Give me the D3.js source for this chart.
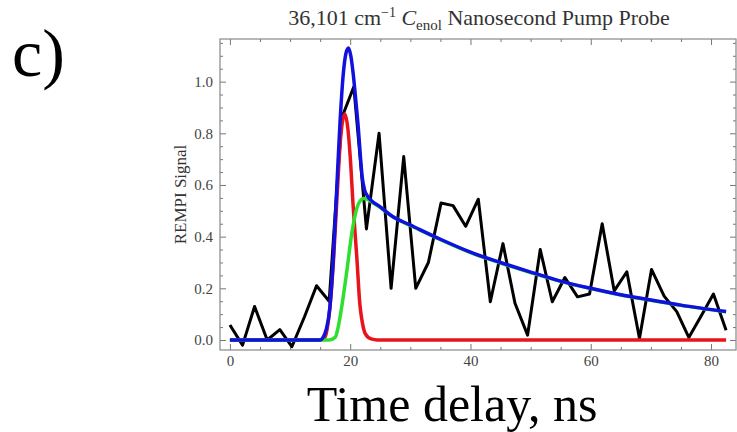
<!DOCTYPE html>
<html>
<head>
<meta charset="utf-8">
<script src="https://cdn.jsdelivr.net/npm/d3@7"></script>
<style>
  body { margin: 0; background: #fff; }
  svg { display: block; font-family: "Liberation Serif", "Times New Roman", serif; }
</style>
</head>
<body>
<div id="chart"></div>
<script>
// REMPI data (black) - time delay in ns
const times = [0, 2.1, 4.1, 6.2, 8.3, 10.3, 12.4, 14.4, 16.5, 18.6, 20.6, 22.7, 24.8, 26.8,
  28.9, 30.9, 33.0, 35.1, 37.1, 39.2, 41.3, 43.3, 45.4, 47.4, 49.5, 51.6, 53.6, 55.7, 57.8,
  59.8, 61.9, 63.9, 66.0, 68.1, 70.1, 72.2, 74.3, 76.3, 78.4, 80.4, 82.5];
const signal = [0.058, -0.02, 0.13, 0.0, 0.04, -0.026, 0.09, 0.21, 0.15, 0.86, 0.98, 0.43,
  0.80, 0.20, 0.71, 0.20, 0.30, 0.53, 0.52, 0.44, 0.545, 0.148, 0.373, 0.142, 0.019, 0.35,
  0.148, 0.242, 0.167, 0.178, 0.45, 0.19, 0.264, 0.006, 0.273, 0.17, 0.11, 0.01, 0.095,
  0.178, 0.038];

// fit components (red = fast, green = slow, blue = total)
const redT = [0, 15, 15.8, 16.5, 17.2, 17.8, 18.4, 19.1, 19.6, 20.0, 20.5, 21.1, 21.6, 22.0, 22.5, 23.5, 24.5, 82.5];
const redV = [0, 0, 0.01, 0.1, 0.3, 0.55, 0.78, 0.875, 0.82, 0.71, 0.515, 0.32, 0.14, 0.07, 0.025, 0.004, 0, 0];

const greenT = [0, 16.5, 17.5, 18.0, 18.6, 19.4, 20.25, 21.1, 21.7, 22.2, 22.8, 23.5, 25, 27.1,
  30, 35, 40, 45, 50, 55, 60, 65, 70, 75, 82.5];
const greenV = [0, 0, 0.01, 0.05, 0.13, 0.26, 0.41, 0.51, 0.54, 0.548, 0.545, 0.535, 0.513, 0.477,
  0.443, 0.388, 0.338, 0.298, 0.261, 0.227, 0.199, 0.174, 0.154, 0.134, 0.109];

const blueT = [0, 15, 15.5, 16.0, 16.6, 17.2, 17.75, 18.3, 18.85, 19.3, 19.7, 20.1, 20.5, 21.0,
  21.35, 21.7, 22.0, 22.4, 22.8, 23.5, 25, 27.1, 30, 35, 40, 45, 50, 55, 60, 65, 70, 75, 82.5];
const blueV = [0, 0, 0.01, 0.04, 0.12, 0.32, 0.58, 0.84, 1.03, 1.11, 1.13, 1.10, 1.03, 0.91,
  0.82, 0.71, 0.63, 0.58, 0.56, 0.54, 0.515, 0.477, 0.445, 0.39, 0.34, 0.30, 0.263, 0.228,
  0.2, 0.175, 0.155, 0.135, 0.11];

const xTicks = [0, 20, 40, 60, 80];
const yTicks = [0, 0.2, 0.4, 0.6, 0.8, 1.0];

const W = 737, H = 432;
const frame = { left: 220, right: 736, top: 39, bottom: 350 };
const serif = '"Liberation Serif", "Times New Roman", serif';

const svg = d3.select('#chart').append('svg')
  .attr('width', W)
  .attr('height', H);

const x = d3.scaleLinear().domain([-1.65, 84.15]).range([frame.left, frame.right]);
const y = d3.scaleLinear().domain([-0.0387, 1.165]).range([frame.bottom, frame.top]);

const xMinor = d3.range(0, 85, 5).filter(v => !xTicks.includes(v));
const yMinor = d3.range(0, 1.16, 0.05).map(v => +v.toFixed(2)).filter(v => !yTicks.includes(v));

// axes, ticks pointing inward
function addAxis(axis, tx, ty) {
  const g = svg.append('g')
    .attr('transform', `translate(${tx},${ty})`)
    .call(axis)
    .attr('font-family', serif)
    .attr('font-size', 15);
  g.select('.domain').remove();
  g.selectAll('.tick line').attr('stroke', '#777');
  g.selectAll('.tick text').attr('fill', '#444');
  return g;
}

addAxis(d3.axisBottom(x).tickValues(xTicks).tickSize(-6).tickPadding(5).tickFormat(d3.format('d')), 0, frame.bottom);
addAxis(d3.axisBottom(x).tickValues(xMinor).tickSize(-3).tickFormat(''), 0, frame.bottom);
addAxis(d3.axisTop(x).tickValues(xTicks).tickSize(-6).tickFormat(''), 0, frame.top);
addAxis(d3.axisTop(x).tickValues(xMinor).tickSize(-3).tickFormat(''), 0, frame.top);

addAxis(d3.axisLeft(y).tickValues(yTicks).tickSize(-6).tickPadding(7).tickFormat(d3.format('.1f')), frame.left, 0);
addAxis(d3.axisLeft(y).tickValues(yMinor).tickSize(-3).tickFormat(''), frame.left, 0);
addAxis(d3.axisRight(y).tickValues(yTicks).tickSize(-6).tickFormat(''), frame.right, 0);
addAxis(d3.axisRight(y).tickValues(yMinor).tickSize(-3).tickFormat(''), frame.right, 0);

svg.append('rect')
  .attr('x', frame.left)
  .attr('y', frame.top)
  .attr('width', frame.right - frame.left)
  .attr('height', frame.bottom - frame.top)
  .attr('fill', 'none')
  .attr('stroke', '#888')
  .attr('stroke-width', 1.2);

const plot = svg.append('g');

const dataLine = d3.line()
  .x(d => x(d[0]))
  .y(d => y(d[1]));

const fitLine = d3.line()
  .curve(d3.curveMonotoneX)
  .x(d => x(d[0]))
  .y(d => y(d[1]));

plot.append('path')
  .datum(d3.zip(times, signal))
  .attr('d', dataLine)
  .attr('fill', 'none')
  .attr('stroke', '#000')
  .attr('stroke-width', 3)
  .attr('stroke-linejoin', 'round');

const fits = [
  { t: redT, v: redV, color: '#e8141c' },
  { t: greenT, v: greenV, color: '#2ee02e' },
  { t: blueT, v: blueV, color: '#1010e0' }
];

fits.forEach(f => {
  plot.append('path')
    .datum(d3.zip(f.t, f.v))
    .attr('d', fitLine)
    .attr('fill', 'none')
    .attr('stroke', f.color)
    .attr('stroke-width', 3.5)
    .attr('stroke-linejoin', 'round');
});

// title
const title = svg.append('text')
  .attr('x', 479)
  .attr('y', 25)
  .attr('text-anchor', 'middle')
  .attr('fill', '#333')
  .style('font-size', '22px');
title.append('tspan').text('36,101 cm');
title.append('tspan').attr('dy', -8).style('font-size', '14px').text('\u22121');
title.append('tspan').attr('dy', 8).text(' ');
title.append('tspan').style('font-style', 'italic').text('C');
title.append('tspan').attr('dy', 5).style('font-size', '15px').text('enol');
title.append('tspan').attr('dy', -5).text(' Nanosecond Pump Probe');

// y label
svg.append('text')
  .attr('transform', `translate(186,${(frame.top + frame.bottom) / 2}) rotate(-90)`)
  .attr('text-anchor', 'middle')
  .attr('fill', '#333')
  .style('font-size', '17px')
  .text('REMPI Signal');

// x label
svg.append('text')
  .attr('x', 452)
  .attr('y', 421)
  .attr('text-anchor', 'middle')
  .attr('fill', '#000')
  .style('font-size', '50px')
  .text('Time delay, ns');

// panel letter
svg.append('text')
  .attr('x', 12)
  .attr('y', 76)
  .attr('fill', '#000')
  .style('font-size', '68px')
  .text('c)');
</script>
</body>
</html>
